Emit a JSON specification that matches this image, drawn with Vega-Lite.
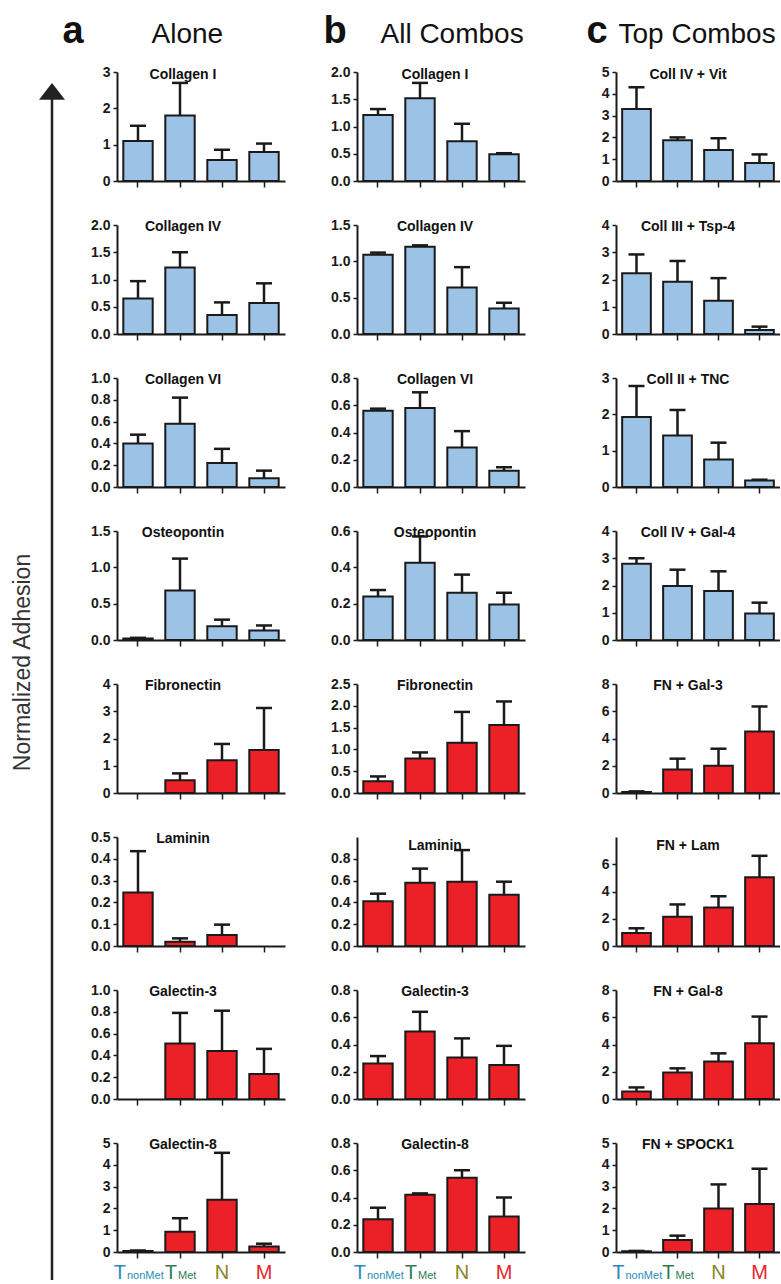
{
"$schema":"https://vega.github.io/schema/vega-lite/v6.json",
"padding":{"left":11,"top":12,"right":0,"bottom":0},
"config":{
"view":{"stroke":null},
"font":"Liberation Sans",
"bar":{"stroke":"#1a1a1a","strokeWidth":2},
"rule":{"color":"#1a1a1a","strokeWidth":2.5},
"tick":{"color":"#1a1a1a","thickness":2.5,"opacity":1},
"axis":{"grid":false,"labelOverlap":false,"domainColor":"#1a1a1a","domainWidth":2,"tickColor":"#1a1a1a","tickWidth":1.5,"labelFont":"Liberation Sans","labelFontWeight":"bold","labelFontSize":14,"labelColor":"#1a1a1a","titleFont":"Liberation Sans"},
"axisX":{"labels":false,"tickSize":6},
"axisY":{"tickSize":4,"labelPadding":3,"labelOverlap":false,"tickCount":20},
"title":{"font":"Liberation Sans","fontSize":14,"fontWeight":"bold","color":"#111","anchor":"middle","frame":"group","baseline":"alphabetic","offset":-1}
},
"datasets":{
"arrow":[{"from":0,"to":0.984}],
"xlab":[{"g":"TnonMet","main":"T","sub":"nonMet"},{"g":"TMet","main":"T","sub":"Met"},{"g":"N","main":"N","sub":""},{"g":"M","main":"M","sub":""}],
"adh":[
{"set":"a","sub":"Collagen I","g":"TnonMet","mean":1.1,"up":1.52},{"set":"a","sub":"Collagen I","g":"TMet","mean":1.8,"up":2.7},{"set":"a","sub":"Collagen I","g":"N","mean":0.58,"up":0.86},{"set":"a","sub":"Collagen I","g":"M","mean":0.8,"up":1.03},
{"set":"a","sub":"Collagen IV","g":"TnonMet","mean":0.65,"up":0.97},{"set":"a","sub":"Collagen IV","g":"TMet","mean":1.22,"up":1.5},{"set":"a","sub":"Collagen IV","g":"N","mean":0.35,"up":0.58},{"set":"a","sub":"Collagen IV","g":"M","mean":0.57,"up":0.93},
{"set":"a","sub":"Collagen VI","g":"TnonMet","mean":0.4,"up":0.48},{"set":"a","sub":"Collagen VI","g":"TMet","mean":0.58,"up":0.82},{"set":"a","sub":"Collagen VI","g":"N","mean":0.22,"up":0.35},{"set":"a","sub":"Collagen VI","g":"M","mean":0.08,"up":0.15},
{"set":"a","sub":"Osteopontin","g":"TnonMet","mean":0.02,"up":0.03},{"set":"a","sub":"Osteopontin","g":"TMet","mean":0.68,"up":1.12},{"set":"a","sub":"Osteopontin","g":"N","mean":0.19,"up":0.28},{"set":"a","sub":"Osteopontin","g":"M","mean":0.13,"up":0.2},
{"set":"a","sub":"Fibronectin","g":"TnonMet","mean":0,"up":0},{"set":"a","sub":"Fibronectin","g":"TMet","mean":0.47,"up":0.72},{"set":"a","sub":"Fibronectin","g":"N","mean":1.2,"up":1.8},{"set":"a","sub":"Fibronectin","g":"M","mean":1.58,"up":3.12},
{"set":"a","sub":"Laminin","g":"TnonMet","mean":0.245,"up":0.435},{"set":"a","sub":"Laminin","g":"TMet","mean":0.02,"up":0.035},{"set":"a","sub":"Laminin","g":"N","mean":0.05,"up":0.098},{"set":"a","sub":"Laminin","g":"M","mean":0,"up":0},
{"set":"a","sub":"Galectin-3","g":"TnonMet","mean":0,"up":0},{"set":"a","sub":"Galectin-3","g":"TMet","mean":0.51,"up":0.79},{"set":"a","sub":"Galectin-3","g":"N","mean":0.44,"up":0.81},{"set":"a","sub":"Galectin-3","g":"M","mean":0.23,"up":0.46},
{"set":"a","sub":"Galectin-8","g":"TnonMet","mean":0.05,"up":0.07},{"set":"a","sub":"Galectin-8","g":"TMet","mean":0.93,"up":1.55},{"set":"a","sub":"Galectin-8","g":"N","mean":2.4,"up":4.55},{"set":"a","sub":"Galectin-8","g":"M","mean":0.25,"up":0.38},
{"set":"b","sub":"Collagen I","g":"TnonMet","mean":1.21,"up":1.32},{"set":"b","sub":"Collagen I","g":"TMet","mean":1.52,"up":1.8},{"set":"b","sub":"Collagen I","g":"N","mean":0.73,"up":1.05},{"set":"b","sub":"Collagen I","g":"M","mean":0.49,"up":0.51},
{"set":"b","sub":"Collagen IV","g":"TnonMet","mean":1.09,"up":1.12},{"set":"b","sub":"Collagen IV","g":"TMet","mean":1.2,"up":1.22},{"set":"b","sub":"Collagen IV","g":"N","mean":0.64,"up":0.92},{"set":"b","sub":"Collagen IV","g":"M","mean":0.35,"up":0.43},
{"set":"b","sub":"Collagen VI","g":"TnonMet","mean":0.56,"up":0.575},{"set":"b","sub":"Collagen VI","g":"TMet","mean":0.58,"up":0.695},{"set":"b","sub":"Collagen VI","g":"N","mean":0.29,"up":0.41},{"set":"b","sub":"Collagen VI","g":"M","mean":0.12,"up":0.145},
{"set":"b","sub":"Osteopontin","g":"TnonMet","mean":0.24,"up":0.275},{"set":"b","sub":"Osteopontin","g":"TMet","mean":0.425,"up":0.57},{"set":"b","sub":"Osteopontin","g":"N","mean":0.26,"up":0.36},{"set":"b","sub":"Osteopontin","g":"M","mean":0.195,"up":0.26},
{"set":"b","sub":"Fibronectin","g":"TnonMet","mean":0.27,"up":0.38},{"set":"b","sub":"Fibronectin","g":"TMet","mean":0.79,"up":0.93},{"set":"b","sub":"Fibronectin","g":"N","mean":1.15,"up":1.86},{"set":"b","sub":"Fibronectin","g":"M","mean":1.56,"up":2.1},
{"set":"b","sub":"Laminin","g":"TnonMet","mean":0.41,"up":0.48},{"set":"b","sub":"Laminin","g":"TMet","mean":0.58,"up":0.71},{"set":"b","sub":"Laminin","g":"N","mean":0.59,"up":0.88},{"set":"b","sub":"Laminin","g":"M","mean":0.47,"up":0.59},
{"set":"b","sub":"Galectin-3","g":"TnonMet","mean":0.26,"up":0.315},{"set":"b","sub":"Galectin-3","g":"TMet","mean":0.495,"up":0.64},{"set":"b","sub":"Galectin-3","g":"N","mean":0.305,"up":0.445},{"set":"b","sub":"Galectin-3","g":"M","mean":0.25,"up":0.39},
{"set":"b","sub":"Galectin-8","g":"TnonMet","mean":0.24,"up":0.325},{"set":"b","sub":"Galectin-8","g":"TMet","mean":0.42,"up":0.43},{"set":"b","sub":"Galectin-8","g":"N","mean":0.545,"up":0.6},{"set":"b","sub":"Galectin-8","g":"M","mean":0.26,"up":0.4},
{"set":"c","sub":"Coll IV + Vit","g":"TnonMet","mean":3.3,"up":4.3},{"set":"c","sub":"Coll IV + Vit","g":"TMet","mean":1.87,"up":2.0},{"set":"c","sub":"Coll IV + Vit","g":"N","mean":1.42,"up":1.96},{"set":"c","sub":"Coll IV + Vit","g":"M","mean":0.83,"up":1.22},
{"set":"c","sub":"Coll III + Tsp-4","g":"TnonMet","mean":2.23,"up":2.92},{"set":"c","sub":"Coll III + Tsp-4","g":"TMet","mean":1.92,"up":2.68},{"set":"c","sub":"Coll III + Tsp-4","g":"N","mean":1.22,"up":2.05},{"set":"c","sub":"Coll III + Tsp-4","g":"M","mean":0.15,"up":0.27},
{"set":"c","sub":"Coll II + TNC","g":"TnonMet","mean":1.93,"up":2.78},{"set":"c","sub":"Coll II + TNC","g":"TMet","mean":1.42,"up":2.12},{"set":"c","sub":"Coll II + TNC","g":"N","mean":0.76,"up":1.22},{"set":"c","sub":"Coll II + TNC","g":"M","mean":0.18,"up":0.2},
{"set":"c","sub":"Coll IV + Gal-4","g":"TnonMet","mean":2.8,"up":3.0},{"set":"c","sub":"Coll IV + Gal-4","g":"TMet","mean":1.98,"up":2.58},{"set":"c","sub":"Coll IV + Gal-4","g":"N","mean":1.8,"up":2.52},{"set":"c","sub":"Coll IV + Gal-4","g":"M","mean":0.97,"up":1.37},
{"set":"c","sub":"FN + Gal-3","g":"TnonMet","mean":0.08,"up":0.12},{"set":"c","sub":"FN + Gal-3","g":"TMet","mean":1.72,"up":2.52},{"set":"c","sub":"FN + Gal-3","g":"N","mean":2.0,"up":3.25},{"set":"c","sub":"FN + Gal-3","g":"M","mean":4.52,"up":6.35},
{"set":"c","sub":"FN + Lam","g":"TnonMet","mean":0.95,"up":1.3},{"set":"c","sub":"FN + Lam","g":"TMet","mean":2.15,"up":3.05},{"set":"c","sub":"FN + Lam","g":"N","mean":2.82,"up":3.65},{"set":"c","sub":"FN + Lam","g":"M","mean":5.05,"up":6.62},
{"set":"c","sub":"FN + Gal-8","g":"TnonMet","mean":0.55,"up":0.85},{"set":"c","sub":"FN + Gal-8","g":"TMet","mean":1.95,"up":2.25},{"set":"c","sub":"FN + Gal-8","g":"N","mean":2.75,"up":3.35},{"set":"c","sub":"FN + Gal-8","g":"M","mean":4.1,"up":6.05},
{"set":"c","sub":"FN + SPOCK1","g":"TnonMet","mean":0.03,"up":0.05},{"set":"c","sub":"FN + SPOCK1","g":"TMet","mean":0.55,"up":0.75},{"set":"c","sub":"FN + SPOCK1","g":"N","mean":2.0,"up":3.1},{"set":"c","sub":"FN + SPOCK1","g":"M","mean":2.2,"up":3.82}
]},
"data":{"name":"adh"},
"spacing":3,
"hconcat":[
{"width":1,"height":1208,"data":{"name":"arrow"},
"encoding":{"x":{"datum":0,"type":"quantitative","scale":{"domain":[0,1]},"axis":{"title":"a","domain":false,"ticks":false,"labels":false,"titleX":10,"titleY":-1238,"titleAngle":0,"titleAlign":"left","titleBaseline":"alphabetic","titleFontSize":38,"titleFontWeight":"bold","titleColor":"#111"}},
"y":{"field":"to","type":"quantitative","scale":{"domain":[0,1],"nice":false},"axis":{"title":"Normalized Adhesion","domain":false,"ticks":false,"labels":false,"titleFontSize":23,"titleFontWeight":"normal","titleColor":"#333","titlePadding":18,"titleY":590}}},
"layer":[
{"mark":{"type":"rule","color":"#222","strokeWidth":2.5},"encoding":{"y":{"field":"from","type":"quantitative"},"y2":{"field":"to"}}},
{"mark":{"type":"point","shape":"M-1,0.65L1,0.65L0,-0.65Z","filled":true,"color":"#222","size":676,"opacity":1}}
]},
{"bounds":"flush","spacing":44,"vconcat":[
{"title":{"text":"Collagen I","dx":-18,"dy":69},"width":168,"height":109,"encoding":{"x":{"field":"g","type":"nominal","scale":{"domain":["TnonMet","TMet","N","M"],"paddingInner":0.3,"paddingOuter":0.15},"axis":{"title":"Alone","titleX":34,"titleY":-139,"titleAngle":0,"titleAlign":"left","titleBaseline":"alphabetic","titleFontSize":28,"titleFontWeight":"normal","titleColor":"#111"}}},"layer":[
{"transform":[{"filter":"datum.set=='a'&&datum.sub=='Collagen I'"}],"mark":{"type":"bar","fill":"#9cc3e6"},"encoding":{"y":{"field":"mean","type":"quantitative","scale":{"domain":[0,3],"nice":false},"axis":{"values":[0,1,2,3],"format":"d","labelOverlap":false,"tickCount":20,"title":" ","titleX":-30,"titleY":-30,"titleAngle":0,"titleAlign":"left","titleBaseline":"alphabetic","titleFontSize":38,"titleFontWeight":"bold"}}}},
{"transform":[{"filter":"datum.set=='a'&&datum.sub=='Collagen I'&&datum.up>datum.mean"}],"mark":"rule","encoding":{"y":{"field":"mean","type":"quantitative"},"y2":{"field":"up"}}},
{"transform":[{"filter":"datum.set=='a'&&datum.sub=='Collagen I'&&datum.up>datum.mean"}],"mark":{"type":"tick","size":16,"opacity":1},"encoding":{"y":{"field":"up","type":"quantitative"}}}]},
{"title":{"text":"Collagen IV","dx":-18,"dy":15},"width":168,"height":109,"encoding":{"x":{"field":"g","type":"nominal","title":null,"scale":{"domain":["TnonMet","TMet","N","M"],"paddingInner":0.3,"paddingOuter":0.15}}},"layer":[
{"transform":[{"filter":"datum.set=='a'&&datum.sub=='Collagen IV'"}],"mark":{"type":"bar","fill":"#9cc3e6"},"encoding":{"y":{"field":"mean","type":"quantitative","title":null,"scale":{"domain":[0,2],"nice":false},"axis":{"values":[0,0.5,1,1.5,2],"format":".1f","labelOverlap":false,"tickCount":20}}}},
{"transform":[{"filter":"datum.set=='a'&&datum.sub=='Collagen IV'&&datum.up>datum.mean"}],"mark":"rule","encoding":{"y":{"field":"mean","type":"quantitative","title":null},"y2":{"field":"up"}}},
{"transform":[{"filter":"datum.set=='a'&&datum.sub=='Collagen IV'&&datum.up>datum.mean"}],"mark":{"type":"tick","size":16,"opacity":1},"encoding":{"y":{"field":"up","type":"quantitative","title":null}}}]},
{"title":{"text":"Collagen VI","dx":-18,"dy":15},"width":168,"height":109,"encoding":{"x":{"field":"g","type":"nominal","title":null,"scale":{"domain":["TnonMet","TMet","N","M"],"paddingInner":0.3,"paddingOuter":0.15}}},"layer":[
{"transform":[{"filter":"datum.set=='a'&&datum.sub=='Collagen VI'"}],"mark":{"type":"bar","fill":"#9cc3e6"},"encoding":{"y":{"field":"mean","type":"quantitative","title":null,"scale":{"domain":[0,1],"nice":false},"axis":{"values":[0,0.2,0.4,0.6,0.8,1],"format":".1f","labelOverlap":false,"tickCount":20}}}},
{"transform":[{"filter":"datum.set=='a'&&datum.sub=='Collagen VI'&&datum.up>datum.mean"}],"mark":"rule","encoding":{"y":{"field":"mean","type":"quantitative","title":null},"y2":{"field":"up"}}},
{"transform":[{"filter":"datum.set=='a'&&datum.sub=='Collagen VI'&&datum.up>datum.mean"}],"mark":{"type":"tick","size":16,"opacity":1},"encoding":{"y":{"field":"up","type":"quantitative","title":null}}}]},
{"title":{"text":"Osteopontin","dx":-18,"dy":15},"width":168,"height":109,"encoding":{"x":{"field":"g","type":"nominal","title":null,"scale":{"domain":["TnonMet","TMet","N","M"],"paddingInner":0.3,"paddingOuter":0.15}}},"layer":[
{"transform":[{"filter":"datum.set=='a'&&datum.sub=='Osteopontin'"}],"mark":{"type":"bar","fill":"#9cc3e6"},"encoding":{"y":{"field":"mean","type":"quantitative","title":null,"scale":{"domain":[0,1.5],"nice":false},"axis":{"values":[0,0.5,1,1.5],"format":".1f","labelOverlap":false,"tickCount":20}}}},
{"transform":[{"filter":"datum.set=='a'&&datum.sub=='Osteopontin'&&datum.up>datum.mean"}],"mark":"rule","encoding":{"y":{"field":"mean","type":"quantitative","title":null},"y2":{"field":"up"}}},
{"transform":[{"filter":"datum.set=='a'&&datum.sub=='Osteopontin'&&datum.up>datum.mean"}],"mark":{"type":"tick","size":16,"opacity":1},"encoding":{"y":{"field":"up","type":"quantitative","title":null}}}]},
{"title":{"text":"Fibronectin","dx":-18,"dy":15},"width":168,"height":109,"encoding":{"x":{"field":"g","type":"nominal","title":null,"scale":{"domain":["TnonMet","TMet","N","M"],"paddingInner":0.3,"paddingOuter":0.15}}},"layer":[
{"transform":[{"filter":"datum.set=='a'&&datum.sub=='Fibronectin'&&datum.mean>0"}],"mark":{"type":"bar","fill":"#ec2027"},"encoding":{"y":{"field":"mean","type":"quantitative","title":null,"scale":{"domain":[0,4],"nice":false},"axis":{"values":[0,1,2,3,4],"format":"d","labelOverlap":false,"tickCount":20}}}},
{"transform":[{"filter":"datum.set=='a'&&datum.sub=='Fibronectin'&&datum.up>datum.mean"}],"mark":"rule","encoding":{"y":{"field":"mean","type":"quantitative","title":null},"y2":{"field":"up"}}},
{"transform":[{"filter":"datum.set=='a'&&datum.sub=='Fibronectin'&&datum.up>datum.mean"}],"mark":{"type":"tick","size":16,"opacity":1},"encoding":{"y":{"field":"up","type":"quantitative","title":null}}}]},
{"title":{"text":"Laminin","dx":-18,"dy":15},"width":168,"height":109,"encoding":{"x":{"field":"g","type":"nominal","title":null,"scale":{"domain":["TnonMet","TMet","N","M"],"paddingInner":0.3,"paddingOuter":0.15}}},"layer":[
{"transform":[{"filter":"datum.set=='a'&&datum.sub=='Laminin'&&datum.mean>0"}],"mark":{"type":"bar","fill":"#ec2027"},"encoding":{"y":{"field":"mean","type":"quantitative","title":null,"scale":{"domain":[0,0.5],"nice":false},"axis":{"values":[0,0.1,0.2,0.3,0.4,0.5],"format":".1f","labelOverlap":false,"tickCount":20}}}},
{"transform":[{"filter":"datum.set=='a'&&datum.sub=='Laminin'&&datum.up>datum.mean"}],"mark":"rule","encoding":{"y":{"field":"mean","type":"quantitative","title":null},"y2":{"field":"up"}}},
{"transform":[{"filter":"datum.set=='a'&&datum.sub=='Laminin'&&datum.up>datum.mean"}],"mark":{"type":"tick","size":16,"opacity":1},"encoding":{"y":{"field":"up","type":"quantitative","title":null}}}]},
{"title":{"text":"Galectin-3","dx":-18,"dy":15},"width":168,"height":109,"encoding":{"x":{"field":"g","type":"nominal","title":null,"scale":{"domain":["TnonMet","TMet","N","M"],"paddingInner":0.3,"paddingOuter":0.15}}},"layer":[
{"transform":[{"filter":"datum.set=='a'&&datum.sub=='Galectin-3'&&datum.mean>0"}],"mark":{"type":"bar","fill":"#ec2027"},"encoding":{"y":{"field":"mean","type":"quantitative","title":null,"scale":{"domain":[0,1],"nice":false},"axis":{"values":[0,0.2,0.4,0.6,0.8,1],"format":".1f","labelOverlap":false,"tickCount":20}}}},
{"transform":[{"filter":"datum.set=='a'&&datum.sub=='Galectin-3'&&datum.up>datum.mean"}],"mark":"rule","encoding":{"y":{"field":"mean","type":"quantitative","title":null},"y2":{"field":"up"}}},
{"transform":[{"filter":"datum.set=='a'&&datum.sub=='Galectin-3'&&datum.up>datum.mean"}],"mark":{"type":"tick","size":16,"opacity":1},"encoding":{"y":{"field":"up","type":"quantitative","title":null}}}]},
{"title":{"text":"Galectin-8","dx":-18,"dy":15},"width":168,"height":109,"encoding":{"x":{"field":"g","type":"nominal","title":null,"scale":{"domain":["TnonMet","TMet","N","M"],"paddingInner":0.3,"paddingOuter":0.15}}},"layer":[
{"transform":[{"filter":"datum.set=='a'&&datum.sub=='Galectin-8'"}],"mark":{"type":"bar","fill":"#ec2027"},"encoding":{"y":{"field":"mean","type":"quantitative","title":null,"scale":{"domain":[0,5],"nice":false},"axis":{"values":[0,1,2,3,4,5],"format":"d","labelOverlap":false,"tickCount":20}}}},
{"transform":[{"filter":"datum.set=='a'&&datum.sub=='Galectin-8'&&datum.up>datum.mean"}],"mark":"rule","encoding":{"y":{"field":"mean","type":"quantitative","title":null},"y2":{"field":"up"}}},
{"transform":[{"filter":"datum.set=='a'&&datum.sub=='Galectin-8'&&datum.up>datum.mean"}],"mark":{"type":"tick","size":16,"opacity":1},"encoding":{"y":{"field":"up","type":"quantitative","title":null}}},
{"data":{"name":"xlab"},"transform":[{"filter":"datum.g=='TnonMet'"}],"mark":{"type":"text","align":"right","baseline":"alphabetic","dx":-12,"dy":27,"fontSize":20,"font":"Liberation Sans"},"encoding":{"y":{"datum":0},"text":{"field":"main"},"color":{"field":"g","type":"nominal","scale":{"domain":["TnonMet","TMet","N","M"],"range":["#2a8ab8","#2e7d4f","#8b8520","#e8262c"]},"legend":null}}},
{"data":{"name":"xlab"},"transform":[{"filter":"datum.g=='TMet'"}],"mark":{"type":"text","align":"right","baseline":"alphabetic","dx":-3,"dy":27,"fontSize":20,"font":"Liberation Sans"},"encoding":{"y":{"datum":0},"text":{"field":"main"},"color":{"field":"g","type":"nominal","scale":{"domain":["TnonMet","TMet","N","M"],"range":["#2a8ab8","#2e7d4f","#8b8520","#e8262c"]},"legend":null}}},
{"data":{"name":"xlab"},"transform":[{"filter":"datum.g=='N'||datum.g=='M'"}],"mark":{"type":"text","align":"center","baseline":"alphabetic","dy":27,"fontSize":20,"font":"Liberation Sans"},"encoding":{"y":{"datum":0},"text":{"field":"main"},"color":{"field":"g","type":"nominal","scale":{"domain":["TnonMet","TMet","N","M"],"range":["#2a8ab8","#2e7d4f","#8b8520","#e8262c"]},"legend":null}}},
{"data":{"name":"xlab"},"transform":[{"filter":"datum.g=='TnonMet'"}],"mark":{"type":"text","align":"left","baseline":"alphabetic","dx":-11,"dy":27,"fontSize":11,"font":"Liberation Sans"},"encoding":{"y":{"datum":0},"text":{"field":"sub"},"color":{"field":"g","type":"nominal","scale":{"domain":["TnonMet","TMet","N","M"],"range":["#2a8ab8","#2e7d4f","#8b8520","#e8262c"]},"legend":null}}},
{"data":{"name":"xlab"},"transform":[{"filter":"datum.g=='TMet'"}],"mark":{"type":"text","align":"left","baseline":"alphabetic","dx":-2,"dy":27,"fontSize":11,"font":"Liberation Sans"},"encoding":{"y":{"datum":0},"text":{"field":"sub"},"color":{"field":"g","type":"nominal","scale":{"domain":["TnonMet","TMet","N","M"],"range":["#2a8ab8","#2e7d4f","#8b8520","#e8262c"]},"legend":null}}}]}
]},
{"bounds":"flush","spacing":44,"vconcat":[
{"title":{"text":"Collagen I","dx":-6,"dy":69},"width":168,"height":109,"encoding":{"x":{"field":"g","type":"nominal","scale":{"domain":["TnonMet","TMet","N","M"],"paddingInner":0.3,"paddingOuter":0.15},"axis":{"title":"All Combos","titleX":23,"titleY":-139,"titleAngle":0,"titleAlign":"left","titleBaseline":"alphabetic","titleFontSize":28,"titleFontWeight":"normal","titleColor":"#111"}}},"layer":[
{"transform":[{"filter":"datum.set=='b'&&datum.sub=='Collagen I'"}],"mark":{"type":"bar","fill":"#9cc3e6"},"encoding":{"y":{"field":"mean","type":"quantitative","scale":{"domain":[0,2],"nice":false},"axis":{"values":[0,0.5,1,1.5,2],"format":".1f","labelOverlap":false,"tickCount":20,"title":"b","titleX":-34,"titleY":-30,"titleAngle":0,"titleAlign":"left","titleBaseline":"alphabetic","titleFontSize":38,"titleFontWeight":"bold","titleColor":"#111"}}}},
{"transform":[{"filter":"datum.set=='b'&&datum.sub=='Collagen I'&&datum.up>datum.mean"}],"mark":"rule","encoding":{"y":{"field":"mean","type":"quantitative"},"y2":{"field":"up"}}},
{"transform":[{"filter":"datum.set=='b'&&datum.sub=='Collagen I'&&datum.up>datum.mean"}],"mark":{"type":"tick","size":16,"opacity":1},"encoding":{"y":{"field":"up","type":"quantitative"}}}]},
{"title":{"text":"Collagen IV","dx":-6,"dy":15},"width":168,"height":109,"encoding":{"x":{"field":"g","type":"nominal","title":null,"scale":{"domain":["TnonMet","TMet","N","M"],"paddingInner":0.3,"paddingOuter":0.15}}},"layer":[
{"transform":[{"filter":"datum.set=='b'&&datum.sub=='Collagen IV'"}],"mark":{"type":"bar","fill":"#9cc3e6"},"encoding":{"y":{"field":"mean","type":"quantitative","title":null,"scale":{"domain":[0,1.5],"nice":false},"axis":{"values":[0,0.5,1,1.5],"format":".1f","labelOverlap":false,"tickCount":20}}}},
{"transform":[{"filter":"datum.set=='b'&&datum.sub=='Collagen IV'&&datum.up>datum.mean"}],"mark":"rule","encoding":{"y":{"field":"mean","type":"quantitative","title":null},"y2":{"field":"up"}}},
{"transform":[{"filter":"datum.set=='b'&&datum.sub=='Collagen IV'&&datum.up>datum.mean"}],"mark":{"type":"tick","size":16,"opacity":1},"encoding":{"y":{"field":"up","type":"quantitative","title":null}}}]},
{"title":{"text":"Collagen VI","dx":-6,"dy":15},"width":168,"height":109,"encoding":{"x":{"field":"g","type":"nominal","title":null,"scale":{"domain":["TnonMet","TMet","N","M"],"paddingInner":0.3,"paddingOuter":0.15}}},"layer":[
{"transform":[{"filter":"datum.set=='b'&&datum.sub=='Collagen VI'"}],"mark":{"type":"bar","fill":"#9cc3e6"},"encoding":{"y":{"field":"mean","type":"quantitative","title":null,"scale":{"domain":[0,0.8],"nice":false},"axis":{"values":[0,0.2,0.4,0.6,0.8],"format":".1f","labelOverlap":false,"tickCount":20}}}},
{"transform":[{"filter":"datum.set=='b'&&datum.sub=='Collagen VI'&&datum.up>datum.mean"}],"mark":"rule","encoding":{"y":{"field":"mean","type":"quantitative","title":null},"y2":{"field":"up"}}},
{"transform":[{"filter":"datum.set=='b'&&datum.sub=='Collagen VI'&&datum.up>datum.mean"}],"mark":{"type":"tick","size":16,"opacity":1},"encoding":{"y":{"field":"up","type":"quantitative","title":null}}}]},
{"title":{"text":"Osteopontin","dx":-6,"dy":15},"width":168,"height":109,"encoding":{"x":{"field":"g","type":"nominal","title":null,"scale":{"domain":["TnonMet","TMet","N","M"],"paddingInner":0.3,"paddingOuter":0.15}}},"layer":[
{"transform":[{"filter":"datum.set=='b'&&datum.sub=='Osteopontin'"}],"mark":{"type":"bar","fill":"#9cc3e6"},"encoding":{"y":{"field":"mean","type":"quantitative","title":null,"scale":{"domain":[0,0.6],"nice":false},"axis":{"values":[0,0.2,0.4,0.6],"format":".1f","labelOverlap":false,"tickCount":20}}}},
{"transform":[{"filter":"datum.set=='b'&&datum.sub=='Osteopontin'&&datum.up>datum.mean"}],"mark":"rule","encoding":{"y":{"field":"mean","type":"quantitative","title":null},"y2":{"field":"up"}}},
{"transform":[{"filter":"datum.set=='b'&&datum.sub=='Osteopontin'&&datum.up>datum.mean"}],"mark":{"type":"tick","size":16,"opacity":1},"encoding":{"y":{"field":"up","type":"quantitative","title":null}}}]},
{"title":{"text":"Fibronectin","dx":-6,"dy":15},"width":168,"height":109,"encoding":{"x":{"field":"g","type":"nominal","title":null,"scale":{"domain":["TnonMet","TMet","N","M"],"paddingInner":0.3,"paddingOuter":0.15}}},"layer":[
{"transform":[{"filter":"datum.set=='b'&&datum.sub=='Fibronectin'"}],"mark":{"type":"bar","fill":"#ec2027"},"encoding":{"y":{"field":"mean","type":"quantitative","title":null,"scale":{"domain":[0,2.5],"nice":false},"axis":{"values":[0,0.5,1,1.5,2,2.5],"format":".1f","labelOverlap":false,"tickCount":20}}}},
{"transform":[{"filter":"datum.set=='b'&&datum.sub=='Fibronectin'&&datum.up>datum.mean"}],"mark":"rule","encoding":{"y":{"field":"mean","type":"quantitative","title":null},"y2":{"field":"up"}}},
{"transform":[{"filter":"datum.set=='b'&&datum.sub=='Fibronectin'&&datum.up>datum.mean"}],"mark":{"type":"tick","size":16,"opacity":1},"encoding":{"y":{"field":"up","type":"quantitative","title":null}}}]},
{"title":{"text":"Laminin","dx":-6,"dy":15},"width":168,"height":109,"encoding":{"x":{"field":"g","type":"nominal","title":null,"scale":{"domain":["TnonMet","TMet","N","M"],"paddingInner":0.3,"paddingOuter":0.15}}},"layer":[
{"transform":[{"filter":"datum.set=='b'&&datum.sub=='Laminin'"}],"mark":{"type":"bar","fill":"#ec2027"},"encoding":{"y":{"field":"mean","type":"quantitative","title":null,"scale":{"domain":[0,1],"nice":false},"axis":{"values":[0,0.2,0.4,0.6,0.8],"format":".1f","labelOverlap":false,"tickCount":20}}}},
{"transform":[{"filter":"datum.set=='b'&&datum.sub=='Laminin'&&datum.up>datum.mean"}],"mark":"rule","encoding":{"y":{"field":"mean","type":"quantitative","title":null},"y2":{"field":"up"}}},
{"transform":[{"filter":"datum.set=='b'&&datum.sub=='Laminin'&&datum.up>datum.mean"}],"mark":{"type":"tick","size":16,"opacity":1},"encoding":{"y":{"field":"up","type":"quantitative","title":null}}}]},
{"title":{"text":"Galectin-3","dx":-6,"dy":15},"width":168,"height":109,"encoding":{"x":{"field":"g","type":"nominal","title":null,"scale":{"domain":["TnonMet","TMet","N","M"],"paddingInner":0.3,"paddingOuter":0.15}}},"layer":[
{"transform":[{"filter":"datum.set=='b'&&datum.sub=='Galectin-3'"}],"mark":{"type":"bar","fill":"#ec2027"},"encoding":{"y":{"field":"mean","type":"quantitative","title":null,"scale":{"domain":[0,0.8],"nice":false},"axis":{"values":[0,0.2,0.4,0.6,0.8],"format":".1f","labelOverlap":false,"tickCount":20}}}},
{"transform":[{"filter":"datum.set=='b'&&datum.sub=='Galectin-3'&&datum.up>datum.mean"}],"mark":"rule","encoding":{"y":{"field":"mean","type":"quantitative","title":null},"y2":{"field":"up"}}},
{"transform":[{"filter":"datum.set=='b'&&datum.sub=='Galectin-3'&&datum.up>datum.mean"}],"mark":{"type":"tick","size":16,"opacity":1},"encoding":{"y":{"field":"up","type":"quantitative","title":null}}}]},
{"title":{"text":"Galectin-8","dx":-6,"dy":15},"width":168,"height":109,"encoding":{"x":{"field":"g","type":"nominal","title":null,"scale":{"domain":["TnonMet","TMet","N","M"],"paddingInner":0.3,"paddingOuter":0.15}}},"layer":[
{"transform":[{"filter":"datum.set=='b'&&datum.sub=='Galectin-8'"}],"mark":{"type":"bar","fill":"#ec2027"},"encoding":{"y":{"field":"mean","type":"quantitative","scale":{"domain":[0,0.8],"nice":false},"axis":{"values":[0,0.2,0.4,0.6,0.8],"format":".1f","labelOverlap":false,"tickCount":20,"title":" ","titleX":-69,"titleY":60,"titleAngle":0,"titleAlign":"left","titleBaseline":"alphabetic"}}}},
{"transform":[{"filter":"datum.set=='b'&&datum.sub=='Galectin-8'&&datum.up>datum.mean"}],"mark":"rule","encoding":{"y":{"field":"mean","type":"quantitative"},"y2":{"field":"up"}}},
{"transform":[{"filter":"datum.set=='b'&&datum.sub=='Galectin-8'&&datum.up>datum.mean"}],"mark":{"type":"tick","size":16,"opacity":1},"encoding":{"y":{"field":"up","type":"quantitative"}}},
{"data":{"name":"xlab"},"transform":[{"filter":"datum.g=='TnonMet'"}],"mark":{"type":"text","align":"right","baseline":"alphabetic","dx":-12,"dy":27,"fontSize":20,"font":"Liberation Sans"},"encoding":{"y":{"datum":0},"text":{"field":"main"},"color":{"field":"g","type":"nominal","scale":{"domain":["TnonMet","TMet","N","M"],"range":["#2a8ab8","#2e7d4f","#8b8520","#e8262c"]},"legend":null}}},
{"data":{"name":"xlab"},"transform":[{"filter":"datum.g=='TMet'"}],"mark":{"type":"text","align":"right","baseline":"alphabetic","dx":-3,"dy":27,"fontSize":20,"font":"Liberation Sans"},"encoding":{"y":{"datum":0},"text":{"field":"main"},"color":{"field":"g","type":"nominal","scale":{"domain":["TnonMet","TMet","N","M"],"range":["#2a8ab8","#2e7d4f","#8b8520","#e8262c"]},"legend":null}}},
{"data":{"name":"xlab"},"transform":[{"filter":"datum.g=='N'||datum.g=='M'"}],"mark":{"type":"text","align":"center","baseline":"alphabetic","dy":27,"fontSize":20,"font":"Liberation Sans"},"encoding":{"y":{"datum":0},"text":{"field":"main"},"color":{"field":"g","type":"nominal","scale":{"domain":["TnonMet","TMet","N","M"],"range":["#2a8ab8","#2e7d4f","#8b8520","#e8262c"]},"legend":null}}},
{"data":{"name":"xlab"},"transform":[{"filter":"datum.g=='TnonMet'"}],"mark":{"type":"text","align":"left","baseline":"alphabetic","dx":-11,"dy":27,"fontSize":11,"font":"Liberation Sans"},"encoding":{"y":{"datum":0},"text":{"field":"sub"},"color":{"field":"g","type":"nominal","scale":{"domain":["TnonMet","TMet","N","M"],"range":["#2a8ab8","#2e7d4f","#8b8520","#e8262c"]},"legend":null}}},
{"data":{"name":"xlab"},"transform":[{"filter":"datum.g=='TMet'"}],"mark":{"type":"text","align":"left","baseline":"alphabetic","dx":-2,"dy":27,"fontSize":11,"font":"Liberation Sans"},"encoding":{"y":{"datum":0},"text":{"field":"sub"},"color":{"field":"g","type":"nominal","scale":{"domain":["TnonMet","TMet","N","M"],"range":["#2a8ab8","#2e7d4f","#8b8520","#e8262c"]},"legend":null}}}]}
]},
{"bounds":"flush","spacing":44,"vconcat":[
{"title":{"text":"Coll IV + Vit","dx":-10,"dy":69},"width":164,"height":109,"encoding":{"x":{"field":"g","type":"nominal","scale":{"domain":["TnonMet","TMet","N","M"],"paddingInner":0.3,"paddingOuter":0.15},"axis":{"title":"Top Combos","titleX":2,"titleY":-139,"titleAngle":0,"titleAlign":"left","titleBaseline":"alphabetic","titleFontSize":28,"titleFontWeight":"normal","titleColor":"#111"}}},"layer":[
{"transform":[{"filter":"datum.set=='c'&&datum.sub=='Coll IV + Vit'"}],"mark":{"type":"bar","fill":"#9cc3e6"},"encoding":{"y":{"field":"mean","type":"quantitative","scale":{"domain":[0,5],"nice":false},"axis":{"values":[0,1,2,3,4,5],"format":"d","labelOverlap":false,"tickCount":20,"title":"c","titleX":-30,"titleY":-30,"titleAngle":0,"titleAlign":"left","titleBaseline":"alphabetic","titleFontSize":38,"titleFontWeight":"bold","titleColor":"#111"}}}},
{"transform":[{"filter":"datum.set=='c'&&datum.sub=='Coll IV + Vit'&&datum.up>datum.mean"}],"mark":"rule","encoding":{"y":{"field":"mean","type":"quantitative"},"y2":{"field":"up"}}},
{"transform":[{"filter":"datum.set=='c'&&datum.sub=='Coll IV + Vit'&&datum.up>datum.mean"}],"mark":{"type":"tick","size":16,"opacity":1},"encoding":{"y":{"field":"up","type":"quantitative"}}}]},
{"title":{"text":"Coll III + Tsp-4","dx":-10,"dy":15},"width":164,"height":109,"encoding":{"x":{"field":"g","type":"nominal","title":null,"scale":{"domain":["TnonMet","TMet","N","M"],"paddingInner":0.3,"paddingOuter":0.15}}},"layer":[
{"transform":[{"filter":"datum.set=='c'&&datum.sub=='Coll III + Tsp-4'"}],"mark":{"type":"bar","fill":"#9cc3e6"},"encoding":{"y":{"field":"mean","type":"quantitative","title":null,"scale":{"domain":[0,4],"nice":false},"axis":{"values":[0,1,2,3,4],"format":"d","labelOverlap":false,"tickCount":20}}}},
{"transform":[{"filter":"datum.set=='c'&&datum.sub=='Coll III + Tsp-4'&&datum.up>datum.mean"}],"mark":"rule","encoding":{"y":{"field":"mean","type":"quantitative","title":null},"y2":{"field":"up"}}},
{"transform":[{"filter":"datum.set=='c'&&datum.sub=='Coll III + Tsp-4'&&datum.up>datum.mean"}],"mark":{"type":"tick","size":16,"opacity":1},"encoding":{"y":{"field":"up","type":"quantitative","title":null}}}]},
{"title":{"text":"Coll II + TNC","dx":-10,"dy":15},"width":164,"height":109,"encoding":{"x":{"field":"g","type":"nominal","title":null,"scale":{"domain":["TnonMet","TMet","N","M"],"paddingInner":0.3,"paddingOuter":0.15}}},"layer":[
{"transform":[{"filter":"datum.set=='c'&&datum.sub=='Coll II + TNC'"}],"mark":{"type":"bar","fill":"#9cc3e6"},"encoding":{"y":{"field":"mean","type":"quantitative","title":null,"scale":{"domain":[0,3],"nice":false},"axis":{"values":[0,1,2,3],"format":"d","labelOverlap":false,"tickCount":20}}}},
{"transform":[{"filter":"datum.set=='c'&&datum.sub=='Coll II + TNC'&&datum.up>datum.mean"}],"mark":"rule","encoding":{"y":{"field":"mean","type":"quantitative","title":null},"y2":{"field":"up"}}},
{"transform":[{"filter":"datum.set=='c'&&datum.sub=='Coll II + TNC'&&datum.up>datum.mean"}],"mark":{"type":"tick","size":16,"opacity":1},"encoding":{"y":{"field":"up","type":"quantitative","title":null}}}]},
{"title":{"text":"Coll IV + Gal-4","dx":-10,"dy":15},"width":164,"height":109,"encoding":{"x":{"field":"g","type":"nominal","title":null,"scale":{"domain":["TnonMet","TMet","N","M"],"paddingInner":0.3,"paddingOuter":0.15}}},"layer":[
{"transform":[{"filter":"datum.set=='c'&&datum.sub=='Coll IV + Gal-4'"}],"mark":{"type":"bar","fill":"#9cc3e6"},"encoding":{"y":{"field":"mean","type":"quantitative","title":null,"scale":{"domain":[0,4],"nice":false},"axis":{"values":[0,1,2,3,4],"format":"d","labelOverlap":false,"tickCount":20}}}},
{"transform":[{"filter":"datum.set=='c'&&datum.sub=='Coll IV + Gal-4'&&datum.up>datum.mean"}],"mark":"rule","encoding":{"y":{"field":"mean","type":"quantitative","title":null},"y2":{"field":"up"}}},
{"transform":[{"filter":"datum.set=='c'&&datum.sub=='Coll IV + Gal-4'&&datum.up>datum.mean"}],"mark":{"type":"tick","size":16,"opacity":1},"encoding":{"y":{"field":"up","type":"quantitative","title":null}}}]},
{"title":{"text":"FN + Gal-3","dx":-10,"dy":15},"width":164,"height":109,"encoding":{"x":{"field":"g","type":"nominal","title":null,"scale":{"domain":["TnonMet","TMet","N","M"],"paddingInner":0.3,"paddingOuter":0.15}}},"layer":[
{"transform":[{"filter":"datum.set=='c'&&datum.sub=='FN + Gal-3'"}],"mark":{"type":"bar","fill":"#ec2027"},"encoding":{"y":{"field":"mean","type":"quantitative","title":null,"scale":{"domain":[0,8],"nice":false},"axis":{"values":[0,2,4,6,8],"format":"d","labelOverlap":false,"tickCount":20}}}},
{"transform":[{"filter":"datum.set=='c'&&datum.sub=='FN + Gal-3'&&datum.up>datum.mean"}],"mark":"rule","encoding":{"y":{"field":"mean","type":"quantitative","title":null},"y2":{"field":"up"}}},
{"transform":[{"filter":"datum.set=='c'&&datum.sub=='FN + Gal-3'&&datum.up>datum.mean"}],"mark":{"type":"tick","size":16,"opacity":1},"encoding":{"y":{"field":"up","type":"quantitative","title":null}}}]},
{"title":{"text":"FN + Lam","dx":-10,"dy":15},"width":164,"height":109,"encoding":{"x":{"field":"g","type":"nominal","title":null,"scale":{"domain":["TnonMet","TMet","N","M"],"paddingInner":0.3,"paddingOuter":0.15}}},"layer":[
{"transform":[{"filter":"datum.set=='c'&&datum.sub=='FN + Lam'"}],"mark":{"type":"bar","fill":"#ec2027"},"encoding":{"y":{"field":"mean","type":"quantitative","title":null,"scale":{"domain":[0,8],"nice":false},"axis":{"values":[0,2,4,6],"format":"d","labelOverlap":false,"tickCount":20}}}},
{"transform":[{"filter":"datum.set=='c'&&datum.sub=='FN + Lam'&&datum.up>datum.mean"}],"mark":"rule","encoding":{"y":{"field":"mean","type":"quantitative","title":null},"y2":{"field":"up"}}},
{"transform":[{"filter":"datum.set=='c'&&datum.sub=='FN + Lam'&&datum.up>datum.mean"}],"mark":{"type":"tick","size":16,"opacity":1},"encoding":{"y":{"field":"up","type":"quantitative","title":null}}}]},
{"title":{"text":"FN + Gal-8","dx":-10,"dy":15},"width":164,"height":109,"encoding":{"x":{"field":"g","type":"nominal","title":null,"scale":{"domain":["TnonMet","TMet","N","M"],"paddingInner":0.3,"paddingOuter":0.15}}},"layer":[
{"transform":[{"filter":"datum.set=='c'&&datum.sub=='FN + Gal-8'"}],"mark":{"type":"bar","fill":"#ec2027"},"encoding":{"y":{"field":"mean","type":"quantitative","title":null,"scale":{"domain":[0,8],"nice":false},"axis":{"values":[0,2,4,6,8],"format":"d","labelOverlap":false,"tickCount":20}}}},
{"transform":[{"filter":"datum.set=='c'&&datum.sub=='FN + Gal-8'&&datum.up>datum.mean"}],"mark":"rule","encoding":{"y":{"field":"mean","type":"quantitative","title":null},"y2":{"field":"up"}}},
{"transform":[{"filter":"datum.set=='c'&&datum.sub=='FN + Gal-8'&&datum.up>datum.mean"}],"mark":{"type":"tick","size":16,"opacity":1},"encoding":{"y":{"field":"up","type":"quantitative","title":null}}}]},
{"title":{"text":"FN + SPOCK1","dx":-10,"dy":15},"width":164,"height":109,"encoding":{"x":{"field":"g","type":"nominal","title":null,"scale":{"domain":["TnonMet","TMet","N","M"],"paddingInner":0.3,"paddingOuter":0.15}}},"layer":[
{"transform":[{"filter":"datum.set=='c'&&datum.sub=='FN + SPOCK1'"}],"mark":{"type":"bar","fill":"#ec2027"},"encoding":{"y":{"field":"mean","type":"quantitative","scale":{"domain":[0,5],"nice":false},"axis":{"values":[0,1,2,3,4,5],"format":"d","labelOverlap":false,"tickCount":20,"title":" ","titleX":-88,"titleY":60,"titleAngle":0,"titleAlign":"left","titleBaseline":"alphabetic"}}}},
{"transform":[{"filter":"datum.set=='c'&&datum.sub=='FN + SPOCK1'&&datum.up>datum.mean"}],"mark":"rule","encoding":{"y":{"field":"mean","type":"quantitative"},"y2":{"field":"up"}}},
{"transform":[{"filter":"datum.set=='c'&&datum.sub=='FN + SPOCK1'&&datum.up>datum.mean"}],"mark":{"type":"tick","size":16,"opacity":1},"encoding":{"y":{"field":"up","type":"quantitative"}}},
{"data":{"name":"xlab"},"transform":[{"filter":"datum.g=='TnonMet'"}],"mark":{"type":"text","align":"right","baseline":"alphabetic","dx":-12,"dy":27,"fontSize":20,"font":"Liberation Sans"},"encoding":{"y":{"datum":0},"text":{"field":"main"},"color":{"field":"g","type":"nominal","scale":{"domain":["TnonMet","TMet","N","M"],"range":["#2a8ab8","#2e7d4f","#8b8520","#e8262c"]},"legend":null}}},
{"data":{"name":"xlab"},"transform":[{"filter":"datum.g=='TMet'"}],"mark":{"type":"text","align":"right","baseline":"alphabetic","dx":-3,"dy":27,"fontSize":20,"font":"Liberation Sans"},"encoding":{"y":{"datum":0},"text":{"field":"main"},"color":{"field":"g","type":"nominal","scale":{"domain":["TnonMet","TMet","N","M"],"range":["#2a8ab8","#2e7d4f","#8b8520","#e8262c"]},"legend":null}}},
{"data":{"name":"xlab"},"transform":[{"filter":"datum.g=='N'||datum.g=='M'"}],"mark":{"type":"text","align":"center","baseline":"alphabetic","dy":27,"fontSize":20,"font":"Liberation Sans"},"encoding":{"y":{"datum":0},"text":{"field":"main"},"color":{"field":"g","type":"nominal","scale":{"domain":["TnonMet","TMet","N","M"],"range":["#2a8ab8","#2e7d4f","#8b8520","#e8262c"]},"legend":null}}},
{"data":{"name":"xlab"},"transform":[{"filter":"datum.g=='TnonMet'"}],"mark":{"type":"text","align":"left","baseline":"alphabetic","dx":-11,"dy":27,"fontSize":11,"font":"Liberation Sans"},"encoding":{"y":{"datum":0},"text":{"field":"sub"},"color":{"field":"g","type":"nominal","scale":{"domain":["TnonMet","TMet","N","M"],"range":["#2a8ab8","#2e7d4f","#8b8520","#e8262c"]},"legend":null}}},
{"data":{"name":"xlab"},"transform":[{"filter":"datum.g=='TMet'"}],"mark":{"type":"text","align":"left","baseline":"alphabetic","dx":-2,"dy":27,"fontSize":11,"font":"Liberation Sans"},"encoding":{"y":{"datum":0},"text":{"field":"sub"},"color":{"field":"g","type":"nominal","scale":{"domain":["TnonMet","TMet","N","M"],"range":["#2a8ab8","#2e7d4f","#8b8520","#e8262c"]},"legend":null}}}]}
]}
]
}
